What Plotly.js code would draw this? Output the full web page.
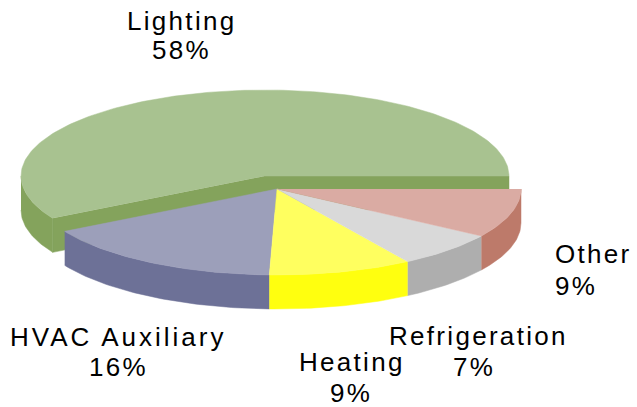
<!DOCTYPE html>
<html><head><meta charset="utf-8">
<script src="https://cdn.plot.ly/plotly-3.0.1.min.js"></script>
<style>html,body{margin:0;padding:0;background:#fff}#c{width:637px;height:407px}
.annotation-text{letter-spacing:2.3px}
.annotation[data-index="2"] .annotation-text{letter-spacing:3px}</style></head>
<body><div id="c"></div>
<script>
const categories=["Lighting","HVAC Auxiliary","Heating","Refrigeration","Other"];
const shownPercent=["58%","16%","9%","7%","9%"];
const values=[58.2,16.3,9.5,6.8,9.2];
const topColors=["#A8C290","#9C9FBA","#FFFF5F","#D9D9D9","#DAABA3"];
const sideColors=["#84A35C","#6D7197","#FFFF0F","#AEAEAE","#BD7A6A"];
const nameX=[181,118,352,478,553];
const nameY=[21,337,362,336,254];
const pctX=[181,118,351,474,553];
const pctY=[50,367,393,367,286];
const labelAlign=["center","center","center","center","left"];

const RX=244,RY=86,DEPTH=34;
const centers=[[265,176],[277,189],[277,189],[277,189],[277,189]];
const total=values.reduce((a,b)=>a+b,0);
function pt(c,deg,dz){const t=deg*Math.PI/180;return [c[0]+RX*Math.cos(t),c[1]-RY*Math.sin(t)+(dz||0)];}
function arc(c,a,b,dz){const o=[];const n=Math.max(2,Math.ceil(Math.abs(b-a)));for(let i=0;i<=n;i++)o.push(pt(c,a+(b-a)*i/n,dz));return o;}
function poly(points,color){return {type:'scatter',mode:'lines',x:points.map(p=>p[0]),y:points.map(p=>p[1]),
  fill:'toself',fillcolor:color,line:{width:0.5,color:color},hoverinfo:'skip',showlegend:false};}

const traces=[];
let start=0;const spans=values.map(v=>{const s=[start,start+v/total*360];start=s[1];return s;});
function wall(i,a,b){const c=centers[i];return poly(arc(c,a,b,0).concat(arc(c,b,a,DEPTH)),sideColors[i]);}
function face(i,deg){const c=centers[i];const e=pt(c,deg);return poly([c,e,[e[0],e[1]+DEPTH],[c[0],c[1]+DEPTH]],sideColors[i]);}
function topFace(i){const c=centers[i];return poly([c].concat(arc(c,spans[i][0],spans[i][1])),topColors[i]);}
traces.push(face(0,spans[0][0]),face(0,spans[0][1]));
traces.push(wall(0,180,spans[0][1]));
traces.push(topFace(0));
for(let i=1;i<values.length;i++){traces.push(wall(i,spans[i][0],spans[i][1]));}
for(let i=1;i<values.length;i++){traces.push(topFace(i));}

const font={family:'"Liberation Sans",Arial,sans-serif',size:26,color:'#000'};
function label(text,x,y,i){return {x:x,y:y,xref:'x',yref:'y',showarrow:false,text:text,xanchor:labelAlign[i],yanchor:'middle',font:font};}
const annotations=[];
categories.forEach((n,i)=>{annotations.push(label(n,nameX[i],nameY[i],i),label(shownPercent[i],pctX[i],pctY[i],i));});

Plotly.newPlot('c',traces,{width:637,height:407,margin:{l:0,r:0,t:0,b:0},paper_bgcolor:'#fff',plot_bgcolor:'#fff',
  xaxis:{range:[0,637],visible:false,fixedrange:true},yaxis:{range:[407,0],visible:false,fixedrange:true},
  annotations:annotations,showlegend:false},{displayModeBar:false,staticPlot:true});
</script></body></html>
